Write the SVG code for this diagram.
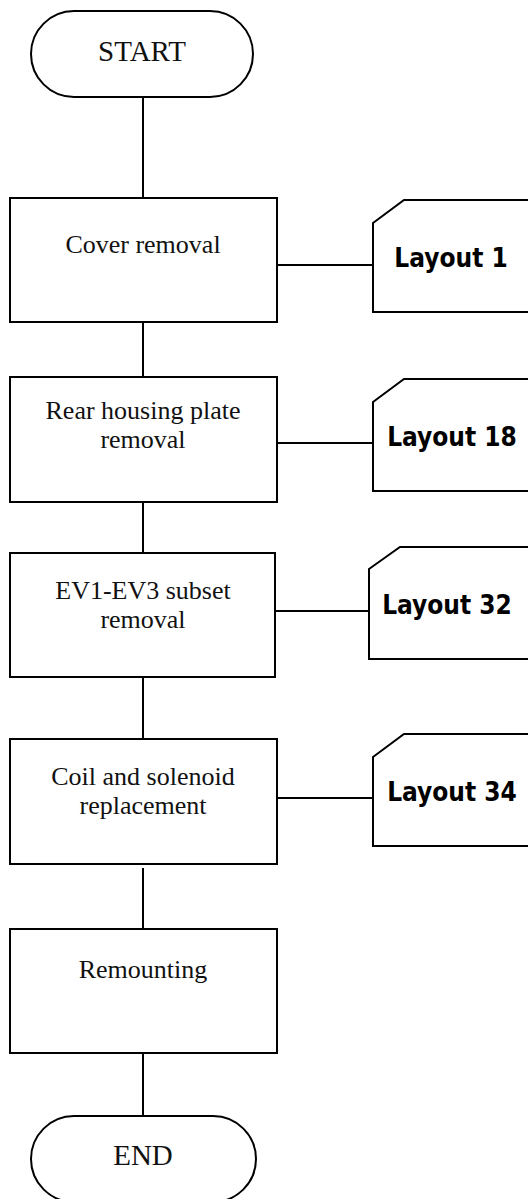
<svg xmlns="http://www.w3.org/2000/svg" width="528" height="1199" viewBox="0 0 528 1199">
<style>
.s{fill:#fff;stroke:#000;stroke-width:2}
.c{fill:none;stroke:#000;stroke-width:2}
.t{font-family:"Liberation Serif","Times New Roman",serif;font-size:26px;fill:#111;text-anchor:middle}
.tt{font-family:"Liberation Serif","Times New Roman",serif;font-size:29px;fill:#111;text-anchor:middle}
.l{font-family:"DejaVu Sans Condensed","DejaVu Sans",sans-serif;font-stretch:condensed;font-weight:bold;font-size:26px;fill:#000;text-anchor:middle}
</style>
<rect width="528" height="1199" fill="#fff"/>
<g id="connectors">
<line class="c" x1="143" y1="97" x2="143" y2="198"/>
<line class="c" x1="143" y1="322" x2="143" y2="376"/>
<line class="c" x1="143" y1="502" x2="143" y2="553"/>
<line class="c" x1="143" y1="677" x2="143" y2="739"/>
<line class="c" x1="143" y1="868" x2="143" y2="929"/>
<line class="c" x1="143" y1="1053" x2="143" y2="1116"/>
<line class="c" x1="277" y1="265" x2="373" y2="265"/>
<line class="c" x1="277" y1="443" x2="373" y2="443"/>
<line class="c" x1="276" y1="611" x2="369" y2="611"/>
<line class="c" x1="277" y1="798" x2="373" y2="798"/>
</g>
<g id="start">
<rect class="s" x="31" y="11" width="222" height="86" rx="43" ry="43"/>
<text class="tt" x="142" y="61">START</text>
</g>
<g id="cover">
<rect class="s" x="10" y="198" width="267" height="124"/>
<text class="t" x="143" y="253">Cover removal</text>
</g>
<g id="layout1">
<path class="s" d="M373,223 L404,200 L540,200 L540,312 L373,312 Z"/>
<text class="l" x="451" y="267">Layout 1</text>
</g>
<g id="rear">
<rect class="s" x="10" y="377" width="267" height="125"/>
<text class="t" x="143" y="419">Rear housing plate</text>
<text class="t" x="143" y="448">removal</text>
</g>
<g id="layout18">
<path class="s" d="M373,402 L404,379 L540,379 L540,491 L373,491 Z"/>
<text class="l" x="452" y="446">Layout 18</text>
</g>
<g id="ev">
<rect class="s" x="10" y="553" width="265" height="124"/>
<text class="t" x="143" y="599">EV1-EV3 subset</text>
<text class="t" x="143" y="628">removal</text>
</g>
<g id="layout32">
<path class="s" d="M369,569 L400,547 L540,547 L540,659 L369,659 Z"/>
<text class="l" x="447" y="614">Layout 32</text>
</g>
<g id="coil">
<rect class="s" x="10" y="739" width="267" height="125"/>
<text class="t" x="143" y="785">Coil and solenoid</text>
<text class="t" x="143" y="814">replacement</text>
</g>
<g id="layout34">
<path class="s" d="M373,757 L404,734 L540,734 L540,846 L373,846 Z"/>
<text class="l" x="452" y="801">Layout 34</text>
</g>
<g id="remounting">
<rect class="s" x="10" y="929" width="267" height="124"/>
<text class="t" x="143" y="978">Remounting</text>
</g>
<g id="end">
<rect class="s" x="31" y="1116" width="225" height="86" rx="43" ry="43"/>
<text class="tt" x="143" y="1165">END</text>
</g>
</svg>
